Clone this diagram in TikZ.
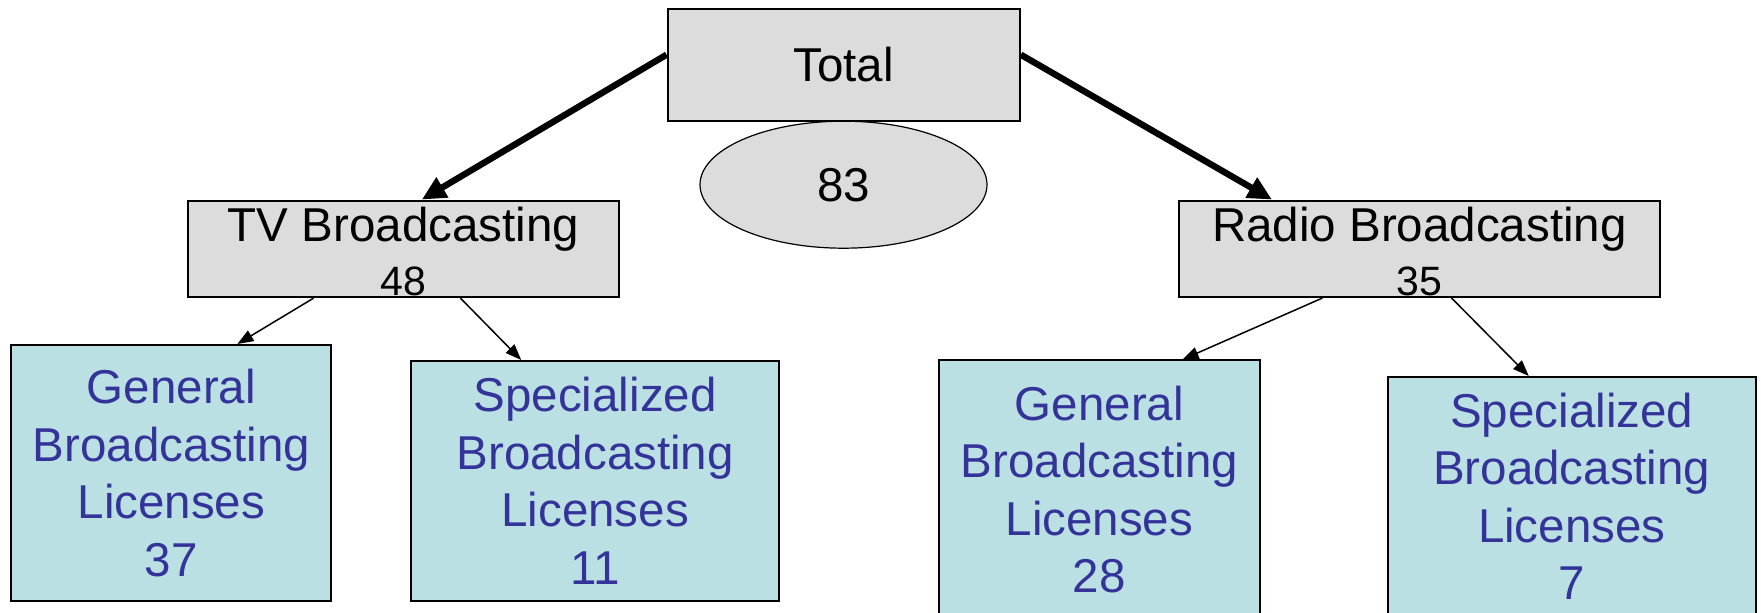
\documentclass[tikz,border=0pt]{standalone}
\usepackage{fontspec}
\setmainfont{Liberation Sans}
\usetikzlibrary{arrows.meta,shapes.geometric}
\definecolor{boxgray}{HTML}{DCDCDC}
\definecolor{boxcyan}{HTML}{BAE0E3}
\definecolor{txtblue}{HTML}{333399}
\begin{document}
\begin{tikzpicture}[x=0.5pt,y=-0.5pt,
  graybox/.style={draw=black,line width=1pt,fill=boxgray,inner sep=0pt,align=center,
    font=\fontsize{23.75}{27}\selectfont},
  cyanbox/.style={draw=black,line width=1pt,fill=boxcyan,inner sep=0pt,align=center,
    text=txtblue,font=\fontsize{23.75}{28.75}\selectfont},
  bigarrow/.style={line width=3.2pt,-{Triangle[length=12pt,width=11pt]}},
  smallarrow/.style={line width=0.75pt,-{Triangle[length=8pt,width=6pt]}}]
\path[use as bounding box] (0,0) rectangle (1761,613);
\clip (0,0) rectangle (1761,613);
\node[graybox,minimum width=176.1pt,minimum height=56.1pt] (total) at (843.7,64.7) {Total};
\node[ellipse,draw=black,line width=0.6pt,fill=boxgray,inner sep=0pt,minimum width=143.5pt,minimum height=63.5pt,
  font=\fontsize{23.75}{27}\selectfont] (sum) at (843.5,184.7) {83};
\node[graybox,minimum width=215.95pt,minimum height=48.3pt] (tv) at (403.5,248.9) {};
\node[graybox,draw=none,fill=none] (tvtext) at (403.5,251.5)
  {TV Broadcasting\\{\fontsize{20.5}{27}\selectfont 48}};
\node[graybox,minimum width=240.5pt,minimum height=48.2pt] (radio) at (1419.5,248.8) {};
\node[graybox,draw=none,fill=none] (radiotext) at (1419.5,251.5)
  {Radio Broadcasting\\{\fontsize{20.5}{27}\selectfont 35}};
\node[cyanbox,minimum width=160pt,minimum height=128pt] (gen1) at (171.4,473)
  {General\\Broadcasting\\Licenses\\37};
\node[cyanbox,minimum width=184.2pt,minimum height=120pt] (spec1) at (595.2,481)
  {Specialized\\Broadcasting\\Licenses\\11};
\node[cyanbox,minimum width=160.35pt,minimum height=129pt] (gen2) at (1099.4,489.5)
  {General\\Broadcasting\\Licenses\\28};
\node[cyanbox,minimum width=184.25pt,minimum height=119.5pt] (spec2) at (1571.75,496.5)
  {Specialized\\Broadcasting\\Licenses\\7};
\draw[bigarrow] ([yshift=5pt]total.west) -- ([xshift=9.15pt]tv.north);
\draw[bigarrow] ([yshift=5pt]total.east) -- ([xshift=47pt]radio.north west);
\draw[smallarrow] ([xshift=-45pt]tv.south) -- ([xshift=33pt]gen1.north);
\draw[smallarrow] ([xshift=28.5pt]tv.south) -- ([xshift=-37pt]spec1.north);
\draw[smallarrow] ([xshift=-48.5pt]radio.south) -- ([xshift=41.6pt]gen2.north);
\draw[smallarrow] ([xshift=16pt]radio.south) -- ([xshift=-21.5pt]spec2.north);
\end{tikzpicture}
\end{document}
